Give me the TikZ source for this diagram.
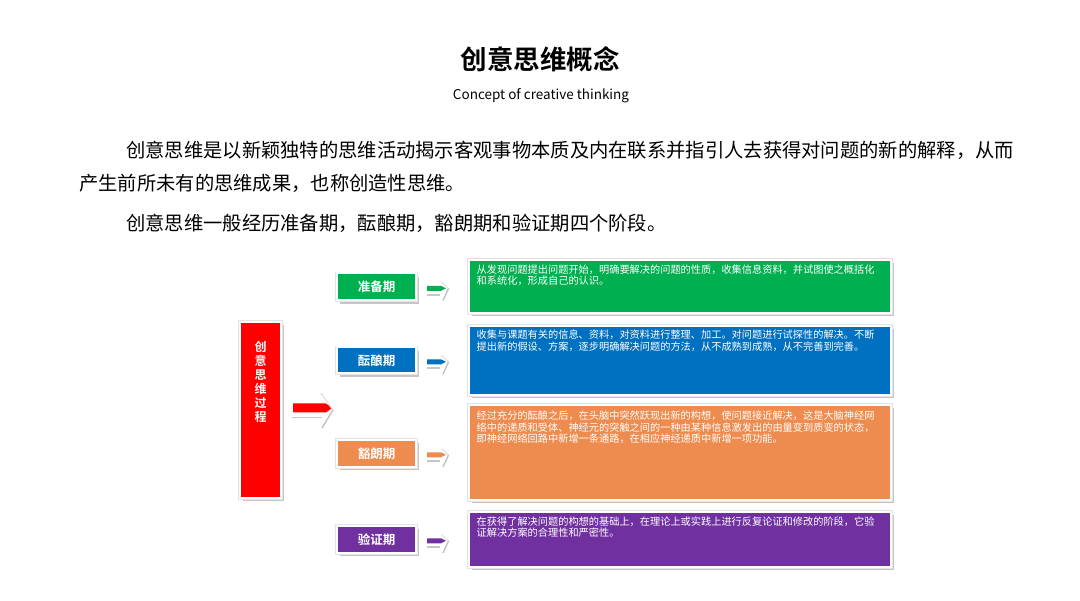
\documentclass[tikz,border=0pt]{standalone}
\usepackage{fontspec}
\setmainfont{Noto Sans CJK SC}[BoldFont={Noto Sans CJK SC Bold}]
\usetikzlibrary{shadows}
\definecolor{cgreen}{HTML}{00B050}
\definecolor{cblue}{HTML}{0070C0}
\definecolor{corange}{HTML}{EE8B4E}
\definecolor{cpurple}{HTML}{7030A0}
\definecolor{cred}{HTML}{FF0000}
\newcommand{\stagearrow}[2]{%
  \fill[#2] ({427},{#1-2.2}) -- ({441},{#1-2.2}) -- ({446},{#1+0.3}) -- ({441},{#1+2.8}) -- ({427},{#1+2.8}) -- cycle;
  \draw[gray!45, line width=1.6pt] ({427},{#1+6.8}) -- ({440},{#1+6.8});
  \draw[gray!22, line width=1.2pt] ({441.5},{#1-6}) -- ({448.5},{#1+0.5});
  \draw[gray!50, line width=1.3pt] ({448.5},{#1+0.5}) -- ({443},{#1+12.5});
}
\begin{document}
\begin{tikzpicture}[x=1pt,y=-1pt,
  panel/.style={fill=#1, draw=white, line width=2pt, inner sep=0pt, outer sep=0pt,
    drop shadow={shadow xshift=2.5pt, shadow yshift=-3.5pt, fill=gray!45, opacity=1},
    preaction={draw=gray!22, line width=3.6pt}},
  stagelabel/.style={text=white, font=\bfseries\fontsize{12.5}{12.5}\selectfont},
  desc/.style={anchor=north west, inner sep=0pt, align=left, text=white,
    font=\fontsize{10.2}{11.2}\selectfont},
  bodytext/.style={anchor=base west, inner sep=0pt, font=\fontsize{19.3}{19.3}\selectfont}]
\useasboundingbox[fill=white] (0,0) rectangle (1080,601);

% title
\node[font=\bfseries\fontsize{26.5}{26.5}\selectfont] (title) at (540,59) {创意思维概念};
\node[anchor=base, inner sep=0pt, font=\fontsize{13.5}{13.5}\selectfont] (sub) at (541,99.5) {Concept of creative thinking};

% body
\node[bodytext] (l1) at (126,157.5) {创意思维是以新颖独特的思维活动揭示客观事物本质及内在联系并指引人去获得对问题的新的解释，从而};
\node[bodytext] (l2) at (79,191) {产生前所未有的思维成果，也称创造性思维。};
\node[bodytext] (l3) at (126,230.5) {创意思维一般经历准备期，酝酿期，豁朗期和验证期四个阶段。};

% main red box
\node[panel=cred, minimum width=41pt, minimum height=176pt] (main) at (260.5,410) {};
\node[align=center, inner sep=0pt, text=white, font=\bfseries\fontsize{12}{14}\selectfont] (maintext) at (260.5,382) {创\\意\\思\\维\\过\\程};

% red arrow
\fill[cred] (293,403.5) -- (326,403.5) -- (332,408) -- (326,412.5) -- (293,412.5) -- cycle;
\draw[gray!45, line width=1.6pt] (292,417.5) -- (322,417.5);
\draw[gray!20, line width=1.3pt] (321,393) -- (333,410);
\draw[gray!50, line width=1.3pt] (333,410) -- (322,428);

% stage boxes
\node[panel=cgreen, minimum width=79pt, minimum height=27pt, stagelabel] (s1) at (376.5,287) {准备期};
\node[panel=cblue, minimum width=79pt, minimum height=26pt, stagelabel] (s2) at (376.5,360.5) {酝酿期};
\node[panel=corange, minimum width=79pt, minimum height=27pt, stagelabel] (s3) at (376.5,453.5) {豁朗期};
\node[panel=cpurple, minimum width=79pt, minimum height=27pt, stagelabel] (s4) at (376.5,539.5) {验证期};

% stage arrows
\stagearrow{288}{cgreen}
\stagearrow{361.5}{cblue}
\stagearrow{454.5}{corange}
\stagearrow{540.5}{cpurple}

% description panels
\node[panel=cgreen, minimum width=422pt, minimum height=53pt] (d1) at (680,286.5) {};
\node[panel=cblue, minimum width=422pt, minimum height=69pt] (d2) at (680,360.5) {};
\node[panel=corange, minimum width=422pt, minimum height=95pt] (d3) at (680,452.5) {};
\node[panel=cpurple, minimum width=422pt, minimum height=55pt] (d4) at (680,539.5) {};

\node[desc] (t1) at (476.5,264.5) {从发现问题提出问题开始，明确要解决的问题的性质，收集信息资料，并试图使之概括化\\和系统化，形成自己的认识。};
\node[desc] (t2) at (476.5,330) {收集与课题有关的信息、资料，对资料进行整理、加工。对问题进行试探性的解决。不断\\提出新的假设、方案，逐步明确解决问题的方法，从不成熟到成熟，从不完善到完善。};
\node[desc] (t3) at (476.5,411) {经过充分的酝酿之后，在头脑中突然跃现出新的构想，使问题接近解决，这是大脑神经网\\络中的递质和受体、神经元的突触之间的一种由某种信息激发出的由量变到质变的状态，\\即神经网络回路中新增一条通路，在相应神经递质中新增一项功能。};
\node[desc] (t4) at (476.5,516.5) {在获得了解决问题的构想的基础上，在理论上或实践上进行反复论证和修改的阶段，它验\\证解决方案的合理性和严密性。};
\end{tikzpicture}
\end{document}
